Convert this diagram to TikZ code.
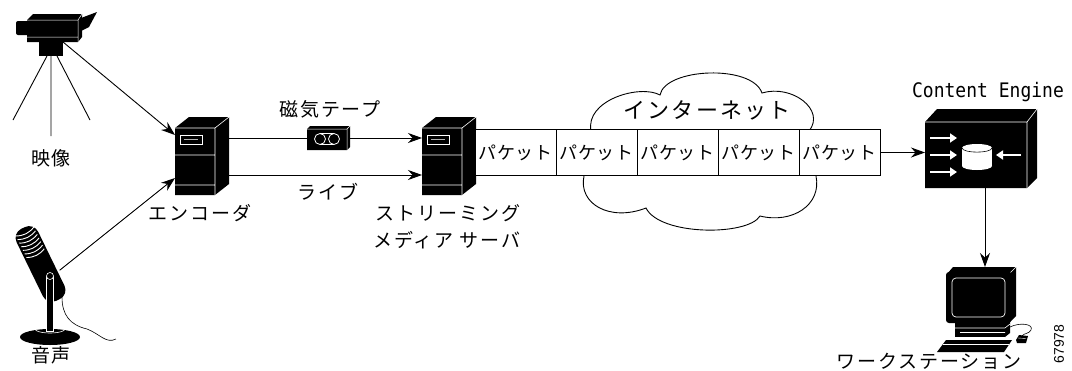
\documentclass[tikz,border=0pt]{standalone}
\usepackage{fontspec}
\usetikzlibrary{arrows.meta}

\newfontfamily\jp[LetterSpace=10]{Noto Sans CJK JP}
\newfontfamily\jppkt[LetterSpace=4]{Noto Sans CJK JP}
\newfontfamily\cefont[FakeStretch=0.9]{DejaVu Sans Mono}
\newfontfamily\numfont{Liberation Sans}

% server tower, drawn from the top left corner of its box
\tikzset{
  pics/tower/.style={code={
    \fill (0,11) -- (14,0) -- (54,0) -- (54,67) -- (40,78) -- (0,78) -- cycle;
    \draw[white, line width=0.6pt] (0,11) -- (40,11) -- (54,0) (40,11) -- (40,78)
      (0,38) -- (40,38) (0,68) -- (40,68);
    \draw[white, line width=0.6pt] (5,18) rectangle (27,27);
    \draw[white!70!black, line width=1.2pt] (9,22.5) -- (23,22.5);
  }}
}

\begin{document}
\begin{tikzpicture}[x=1pt, y=-1pt, line width=0.9pt, >={Stealth[length=14pt,width=10pt]}]
  \tikzstyle{hole} = [inner sep=0pt, outer sep=0pt]
  \tikzstyle{jlabel} = [inner sep=0pt, font=\jp\fontsize{19}{21}\selectfont]
  \tikzstyle{pkt} = [draw, fill=white, minimum width=81, minimum height=46, inner sep=0pt,
    font=\jppkt\fontsize{18}{20}\selectfont]

  \useasboundingbox (0,0) rectangle (1072,370);

  % places for the icons
  \node[hole, minimum width=24, minimum height=14] (cam) at (51,49) {};
  \node[hole, circle, minimum size=12] (mic) at (55,274) {};
  \node[hole, minimum width=54, minimum height=78] (enc) at (202,156) {};
  \node[hole, minimum width=43, minimum height=24] (tape) at (328.5,138) {};
  \node[hole, minimum width=54, minimum height=78] (srv) at (449,156) {};
  \node[hole, minimum width=112, minimum height=79] (ce) at (981,148.5) {};
  \node[hole, minimum width=68, minimum height=55] (ws) at (981,294.5) {};

  % camera on its tripod
  \fill[rounded corners=2] (16,21) rectangle (29,35);
  \fill (27,20) -- (33,14) -- (82,14) -- (82,37) -- (78,42) -- (27,42) -- cycle;
  \draw[white, line width=0.5pt] (27,20) -- (78,20) -- (82,14) (78,20) -- (78,42) (27,37) -- (78,37);
  \fill (81,18) -- (97,12) -- (89,27) -- (81,31) -- cycle;
  \fill (39,42) rectangle (63,56);
  \draw (47,56) -- (13,120) (51,56) -- (51,136) (57,56) -- (90,120);

  % microphone on a stand
  \fill (50,337) ellipse [x radius=30, y radius=8];
  \draw[white, line width=0.6pt] (50,329) ellipse [x radius=15, y radius=4];
  \draw[line width=0.6pt] (62,297) .. controls (62,315) and (70,325) .. (87,329)
    .. controls (100,334) and (106,344) .. (116,339);
  \begin{scope}[shift={(23,228)}, rotate=-64]
    \fill[rounded corners=10] (0,-12) rectangle (80,12);
    \draw[white, line width=0.9pt] (4,-10) to[bend left=25] (4,10) (8,-10) to[bend left=25] (8,10)
      (12,-10) to[bend left=25] (12,10) (16,-10) to[bend left=25] (16,10)
      (20,-10) to[bend left=25] (20,10) (24,-10) to[bend left=25] (24,10)
      (28,-10) to[bend left=25] (28,10);
  \end{scope}
  \filldraw[fill=black, draw=white, line width=0.6pt] (46.5,276) rectangle (53.5,331);
  \filldraw[fill=black, draw=white, line width=0.6pt] (50,276) circle (3.5);

  % encoder and streaming server
  \pic at (enc.north west) {tower};
  \pic at (srv.north west) {tower};

  % tape between them
  \draw ([yshift=18pt]enc.east) -- (tape);
  \draw[->] (tape) -- ([yshift=18pt]srv.west);
  \draw[->] ([yshift=-19pt]enc.east) -- ([yshift=-19pt]srv.west);
  \fill (307,129) -- (310,126) -- (350,126) -- (350,147) -- (347,150) -- (307,150) -- cycle;
  \draw[white, line width=0.5pt] (307,129) -- (347,129) -- (350,126) (347,129) -- (347,150);
  \draw[white, line width=0.8pt] (320,139) circle (5.5) (334,139) circle (5.5)
    (320,133.5) -- (334,133.5) (320,144.5) -- (334,144.5);

  \draw[->] (cam.north east) -- ([yshift=-18pt]enc.north west);
  \draw[->] (mic) -- ([yshift=17pt]enc.south west);

  % the internet
  \draw[fill=white] (591,131) .. controls (585,100) and (640,84) .. (660,95)
    .. controls (665,68) and (752,64) .. (762,93)
    .. controls (792,84) and (826,110) .. (809,131)
    -- (816,176)
    .. controls (822,205) and (792,224) .. (760,216)
    .. controls (748,236) and (660,236) .. (646,208)
    .. controls (610,222) and (578,204) .. (584,176)
    -- cycle;
  \node[inner sep=0pt, font=\jp\fontsize{22}{24}\selectfont] (net) at (707,110) {インターネット};

  % packets
  \node[pkt] (p1) at (515.5,152.5) {パケット};
  \node[pkt] (p2) at (596.5,152.5) {パケット};
  \node[pkt] (p3) at (677.5,152.5) {パケット};
  \node[pkt] (p4) at (758.5,152.5) {パケット};
  \node[pkt] (p5) at (839.5,152.5) {パケット};
  \draw[->] (p5.east) -- (p5.east -| ce.west);

  % content engine box
  \fill (925,122) -- (937,109) -- (1037,109) -- (1037,178) -- (1027,188) -- (925,188) -- cycle;
  \draw[white, line width=0.6pt] (925,122) -- (1027,122) -- (1037,109) (1027,122) -- (1027,188);
  \draw[white, line width=2.4pt, -{Triangle[length=7pt,width=9pt]}] (930,138) -- (957,138);
  \draw[white, line width=2.4pt, -{Triangle[length=7pt,width=9pt]}] (930,155) -- (957,155);
  \draw[white, line width=2.4pt, -{Triangle[length=7pt,width=9pt]}] (930,172) -- (957,172);
  \draw[white, line width=2.4pt, -{Triangle[length=7pt,width=9pt]}] (1021,155) -- (996,155);
  \fill[white] (962,148) rectangle (992,166);
  \fill[white] (977,166) ellipse [x radius=15, y radius=4];
  \fill[white] (977,148) ellipse [x radius=15, y radius=4];
  \draw[line width=0.6pt] (962,148) .. controls (963,153.5) and (991,153.5) .. (992,148);
  \node[inner sep=0pt, font=\cefont\fontsize{20}{22}\selectfont] (cetext) at (988,92) {Content Engine};

  \draw[->] ([xshift=4pt]ce.south) -- ([xshift=4pt]ws.north);

  % workstation
  \fill (947,274) -- (953,267) -- (1016,267) -- (1016,316) -- (1010,322) -- cycle;
  \fill[rounded corners=3] (946,272) rectangle (1011,323);
  \draw[white, line width=0.5pt] (1010.5,272.5) -- (1016,267);
  \draw[white, line width=0.7pt, rounded corners=4] (952,278) rectangle (1005,317);
  \fill (955,323) rectangle (1005,337);
  \fill (1005,323) -- (1010,319) -- (1010,333) -- (1005,337) -- cycle;
  \draw[white, line width=0.6pt] (955,328) -- (1005,328) -- (1010,324) (960,332.5) -- (1005,332.5);
  \fill (937,352) -- (946,340) -- (1012,340) -- (1004,352) -- cycle;
  \draw[white, line width=0.5pt] (943,344.5) -- (1009,344.5);
  \fill (1016,340) -- (1019,335) -- (1028,336) -- (1026,343) -- (1017,343) -- cycle;
  \draw[white, line width=0.4pt] (1018,338) -- (1026,338.5);
  \draw[line width=0.6pt] (1010,327) .. controls (1020,322) and (1034,324) .. (1031,330)
    .. controls (1029,334) and (1024,333) .. (1022,336);

  % labels
  \node[jlabel] (camtext) at (51,158) {映像};
  \node[jlabel] (mictext) at (51,355) {音声};
  \node[jlabel] (enctext) at (200,213) {エンコーダ};
  \node[jlabel] (tapetext) at (330,109) {磁気テープ};
  \node[jlabel] (livetext) at (328,192) {ライブ};
  \node[jlabel] (srvtext1) at (448,213) {ストリーミング};
  \node[jlabel] (srvtext2) at (447,240) {メディア サーバ};
  \node[jlabel] (wstext) at (929,361) {ワークステーション};
  \node[rotate=90, inner sep=0pt, font=\numfont\fontsize{14}{16}\selectfont] (fig) at (1059,344) {67978};
\end{tikzpicture}
\end{document}
